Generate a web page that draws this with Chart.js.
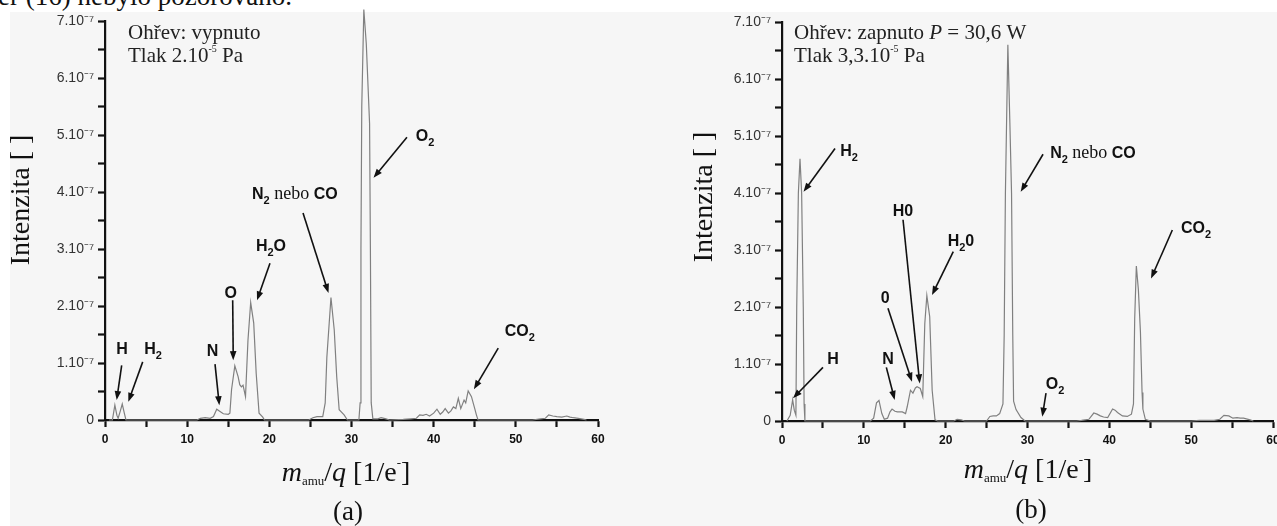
<!DOCTYPE html>
<html><head><meta charset="utf-8">
<script src="https://cdn.jsdelivr.net/npm/chart.js@4/dist/chart.umd.min.js"></script>
<style>
html,body{margin:0;padding:0;width:1277px;height:526px;overflow:hidden;background:#fff;}
#bg{position:absolute;left:10px;top:12px;right:0;bottom:0;background:#f6f6f6;}
#head{position:absolute;left:-2px;top:-19px;font:27px "Liberation Serif",serif;color:#111;white-space:nowrap;}
#ca{position:absolute;left:0;top:0;}
#cb{position:absolute;left:637px;top:0;}
</style></head><body>
<div id="bg"></div>
<div id="head">er (16) nebylo pozorováno.</div>
<canvas id="ca" width="637" height="526"></canvas>
<canvas id="cb" width="660" height="526"></canvas>
<script>
// ---- tick labels ----
const xTickLabels = ['0','10','20','30','40','50','60'];
const yTickLabels = ['0','1.10⁻⁷','2.10⁻⁷','3.10⁻⁷','4.10⁻⁷','5.10⁻⁷','6.10⁻⁷','7.10⁻⁷'];

// ---- panel (a): heating off; m/q [amu/e], intensity in units of 1e-7 ----
const massA = [0.5,0.9,1.2,1.45,1.6,1.85,2.1,2.35,2.55,8,11.2,11.6,12.2,12.8,13.2,13.6,14.0,14.4,15.0,15.2,15.4,15.8,16.2,16.4,16.6,16.8,17.1,17.4,17.73,18.1,18.4,18.75,19.2,19.4,24.8,25.3,25.8,26.5,26.8,27.0,27.5,27.9,28.2,28.5,29.1,29.5,30.9,31.05,31.15,31.25,31.5,31.8,32.2,32.3,32.4,32.6,33.2,33.6,34.2,34.6,36.3,37.2,37.9,38.3,38.7,39.1,39.5,40.0,40.4,40.8,41.1,41.4,41.8,42.1,42.4,42.7,43.0,43.3,43.7,43.9,44.2,44.6,45.0,45.2,45.4,52,53,53.6,54.0,54.5,55.0,55.6,56.2,56.6,57.0,57.6,58.3,58.6];
const intensityA = [0,0,0.26,0.08,0.03,0.15,0.28,0.12,0,0,0,0.03,0.04,0.03,0.06,0.19,0.15,0.11,0.1,0.12,0.53,0.95,0.76,0.62,0.58,0.61,0.41,1.4,2.06,1.7,0.82,0.12,0.05,0,0,0.04,0.06,0.06,0.3,1.1,2.15,1.58,0.76,0.18,0.09,0,0,0.3,3.0,5.5,7.2,6.6,5.2,3.0,0.3,0.02,0.02,0.04,0.02,0,0.01,0.02,0.03,0.09,0.08,0.1,0.07,0.12,0.19,0.1,0.14,0.2,0.12,0.16,0.23,0.2,0.38,0.2,0.35,0.3,0.51,0.41,0.2,0.09,0,0,0.02,0.03,0.09,0.07,0.06,0.05,0.07,0.05,0.04,0.03,0.01,0];

// ---- panel (b): heating on ----
const massB = [0.6,1.0,1.3,1.5,1.7,1.8,2.0,2.2,2.4,2.6,2.7,2.8,10.8,11.2,11.55,11.85,12.2,12.5,12.9,13.2,13.45,13.8,14.1,14.7,15.1,15.3,15.7,16.0,16.3,16.5,16.9,17.2,17.45,17.7,18.05,18.35,18.7,19,21.0,21.4,21.9,22.3,25.0,25.4,25.8,26.2,26.6,27.0,27.15,27.3,27.6,27.85,28.05,28.2,28.3,28.6,29.2,29.7,36,36.6,37.5,38.1,38.5,38.9,39.3,39.8,40.4,40.7,41.0,41.6,42.2,42.7,42.95,43.1,43.3,43.55,43.8,44.0,44.1,44.4,45,50,51,52.8,53.5,54.0,54.6,55.1,55.6,56.0,56.4,57.2,57.6];
const intensityB = [0,0.1,0.37,0.19,0.1,2.0,4.0,4.6,4.0,2.0,0.3,0,0,0.05,0.32,0.36,0.13,0.03,0.05,0.16,0.21,0.17,0.16,0.16,0.13,0.25,0.54,0.49,0.58,0.6,0.57,0.43,1.71,2.2,1.83,0.54,0.02,0,0,0.03,0.02,0,0,0.08,0.09,0.09,0.13,0.3,1.5,4.0,6.6,5.2,4.0,1.5,0.35,0.2,0.06,0,0,0.01,0.03,0.14,0.12,0.09,0.07,0.06,0.21,0.19,0.15,0.09,0.08,0.12,0.3,1.8,2.72,2.3,1.56,0.5,0.21,0.03,0,0,0.01,0.01,0.03,0.1,0.09,0.05,0.06,0.05,0.05,0.02,0];

// ---- annotation labels (text centre, arrow start, arrow tip in data units) ----
const labelsA = [
  {parts:[['H','S']], at:[2.07,1.26], from:[2.03,0.96], to:[1.42,0.35]},
  {parts:[['H','S'],['2','s']], at:[5.84,1.26], from:[4.59,1.02], to:[2.84,0.32]},
  {parts:[['N','S']], at:[13.1,1.23], from:[13.39,0.98], to:[13.91,0.26]},
  {parts:[['O','S']], at:[15.29,2.25], from:[15.54,2.1], to:[15.61,1.05]},
  {parts:[['H','S'],['2','s'],['O','S']], at:[20.2,3.07], from:[20.08,2.75], to:[18.5,2.1]},
  {parts:[['N','S'],['2','s'],[' nebo ','R'],['CO','S']], at:[23.1,3.98], from:[24.1,3.63], to:[27.2,2.23]},
  {parts:[['O','S'],['2','s']], at:[38.95,5.0], from:[36.75,4.96], to:[32.68,4.25]},
  {parts:[['CO','S'],['2','s']], at:[50.47,1.58], from:[47.86,1.26], to:[44.9,0.54]}
];
const labelsB = [
  {parts:[['H','S']], at:[6.23,1.1], from:[5.01,0.94], to:[1.34,0.4]},
  {parts:[['H','S'],['2','s']], at:[8.19,4.75], from:[6.48,4.78], to:[2.63,4.02]},
  {parts:[['N','S']], at:[12.95,1.1], from:[12.75,0.94], to:[13.77,0.37]},
  {parts:[['0','S']], at:[12.62,2.18], from:[12.95,1.98], to:[15.89,0.69]},
  {parts:[['H0','S']], at:[14.79,3.7], from:[14.79,3.53], to:[16.83,0.66]},
  {parts:[['H','S'],['2','s'],['0','S']], at:[21.87,3.18], from:[20.93,2.97], to:[18.33,2.21]},
  {parts:[['N','S'],['2','s'],[' nebo ','R'],['CO','S']], at:[38.0,4.72], from:[31.9,4.68], to:[29.17,4.02]},
  {parts:[['O','S'],['2','s']], at:[33.36,0.66], from:[32.26,0.49], to:[31.81,0.075]},
  {parts:[['CO','S'],['2','s']], at:[50.6,3.41], from:[47.7,3.35], to:[45.1,2.5]}
];
const infoA = [
  [['Ohřev: vypnuto','T']],
  [['Tlak 2.10','T'],['-5','u'],[' Pa','T']]
];
const infoB = [
  [['Ohřev: zapnuto ','T'],['P','I'],[' = 30,6 W','T']],
  [['Tlak 3,3.10','T'],['-5','u'],[' Pa','T']]
];
const xTitle = [['m','XI'],['amu','xs'],['/','X'],['q','XI'],[' [1/e','X'],['-','xu'],[']','X']];

const FONTS = {
  S:{font:'bold 16px "Liberation Sans", Arial, sans-serif', dy:0},
  s:{font:'bold 11px "Liberation Sans", Arial, sans-serif', dy:5},
  R:{font:'18px "Liberation Serif", serif', dy:0},
  T:{font:'21px "Liberation Serif", serif', dy:0},
  I:{font:'italic 21px "Liberation Serif", serif', dy:0},
  u:{font:'10px "Liberation Serif", serif', dy:-10},
  X:{font:'28px "Liberation Serif", serif', dy:0},
  XI:{font:'italic 28px "Liberation Serif", serif', dy:0},
  xs:{font:'13px "Liberation Serif", serif', dy:4},
  xu:{font:'13px "Liberation Serif", serif', dy:-14}
};
function drawRich(ctx, parts, x, y, align){
  let w = 0;
  for (const [t,st] of parts){ ctx.font = FONTS[st].font; w += ctx.measureText(t).width; }
  let cx = align === 'center' ? x - w/2 : x;
  ctx.textAlign = 'left'; ctx.textBaseline = 'alphabetic';
  for (const [t,st] of parts){ ctx.font = FONTS[st].font; ctx.fillText(t, cx, y + FONTS[st].dy); cx += ctx.measureText(t).width; }
}
function arrow(ctx,x1,y1,x2,y2){
  const a = Math.atan2(y2-y1,x2-x1), L=9, W=3.3;
  ctx.beginPath(); ctx.moveTo(x1,y1); ctx.lineTo(x2-L*0.7*Math.cos(a), y2-L*0.7*Math.sin(a)); ctx.stroke();
  ctx.beginPath(); ctx.moveTo(x2,y2);
  ctx.lineTo(x2-L*Math.cos(a)+W*Math.sin(a), y2-L*Math.sin(a)-W*Math.cos(a));
  ctx.lineTo(x2-L*Math.cos(a)-W*Math.sin(a), y2-L*Math.sin(a)+W*Math.cos(a));
  ctx.closePath(); ctx.fill();
}

function makePlugin(cfg){
  return {
    id:'annot',
    afterDraw(chart){
      const ctx = chart.ctx, xs = chart.scales.x, ys = chart.scales.y;
      ctx.save();
      ctx.fillStyle = '#111'; ctx.strokeStyle = '#111'; ctx.lineWidth = 1.6;
      for (const l of cfg.labels){
        drawRich(ctx, l.parts, xs.getPixelForValue(l.at[0]), ys.getPixelForValue(l.at[1]) + 6, 'center');
        arrow(ctx, xs.getPixelForValue(l.from[0]), ys.getPixelForValue(l.from[1]), xs.getPixelForValue(l.to[0]), ys.getPixelForValue(l.to[1]));
      }
      ctx.fillStyle = '#222';
      cfg.info.forEach((p,i)=> drawRich(ctx, p, cfg.infoPos[0], cfg.infoPos[1] + i*23, 'left'));
      ctx.fillStyle = '#111';
      drawRich(ctx, xTitle, cfg.xTitlePos[0], cfg.xTitlePos[1], 'center');
      ctx.font = '27px "Liberation Serif", serif'; ctx.textAlign='center'; ctx.textBaseline='alphabetic';
      ctx.fillText(cfg.letter, cfg.letterPos[0], cfg.letterPos[1]);
      ctx.save();
      ctx.translate(cfg.yTitlePos[0], cfg.yTitlePos[1]); ctx.rotate(-Math.PI/2);
      ctx.font = '28px "Liberation Serif", serif'; ctx.textAlign='center'; ctx.textBaseline='middle';
      ctx.fillText('Intenzita [ ]', 0, 0);
      ctx.restore();
      ctx.restore();
    }
  };
}

function makeChart(id, mass, inten, cfg){
  const points = mass.map((m,i)=>({x:m, y:inten[i]}));
  return new Chart(document.getElementById(id), {
    type:'line',
    data:{datasets:[{data:points, borderColor:'#808080', borderWidth:1.2, pointRadius:0, tension:0, clip:false, fill:false}]},
    options:{
      responsive:false, animation:false, devicePixelRatio:1,
      layout:{padding:cfg.padding},
      plugins:{legend:{display:false}, tooltip:{enabled:false}},
      scales:{
        x:{type:'linear', min:0, max:60,
          afterFit(s){ s.height = cfg.xAxisH; },
          ticks:{stepSize:5, autoSkip:false, maxRotation:0, padding:5, color:'#111',
            font:{family:'"Liberation Sans", Arial, sans-serif', size:12, weight:'bold'},
            callback:(v)=> v%10===0 ? xTickLabels[v/10] : ''},
          grid:{drawOnChartArea:false, drawTicks:true, tickLength:7, tickWidth:2.2, tickColor:'#111'},
          border:{display:true, color:'#111', width:2.2}},
        y:{type:'linear', min:0, max:7,
          afterFit(s){ s.width = cfg.yAxisW; },
          ticks:{stepSize:0.5, autoSkip:false, padding:4, color:'#333',
            font:{family:'"Liberation Sans", Arial, sans-serif', size:14},
            callback:(v)=> Number.isInteger(v) ? yTickLabels[v] : ''},
          grid:{drawOnChartArea:false, drawTicks:true, tickLength:7, tickWidth:2.2, tickColor:'#111'},
          border:{display:true, color:'#111', width:2.2}}
      }
    },
    plugins:[makePlugin(cfg)]
  });
}

makeChart('ca', massA, intensityA, {
  padding:{left:0, top:21, right:39, bottom:0}, yAxisW:105, xAxisH:106,
  labels:labelsA, info:infoA, infoPos:[128,39],
  xTitlePos:[346,481], letter:'(a)', letterPos:[348,520], yTitlePos:[22,200]
});
makeChart('cb', massB, intensityB, {
  padding:{left:0, top:22, right:24, bottom:0}, yAxisW:145, xAxisH:105,
  labels:labelsB, info:infoB, infoPos:[157,39],
  xTitlePos:[391,478], letter:'(b)', letterPos:[394,518], yTitlePos:[68,197]
});
</script></body></html>
